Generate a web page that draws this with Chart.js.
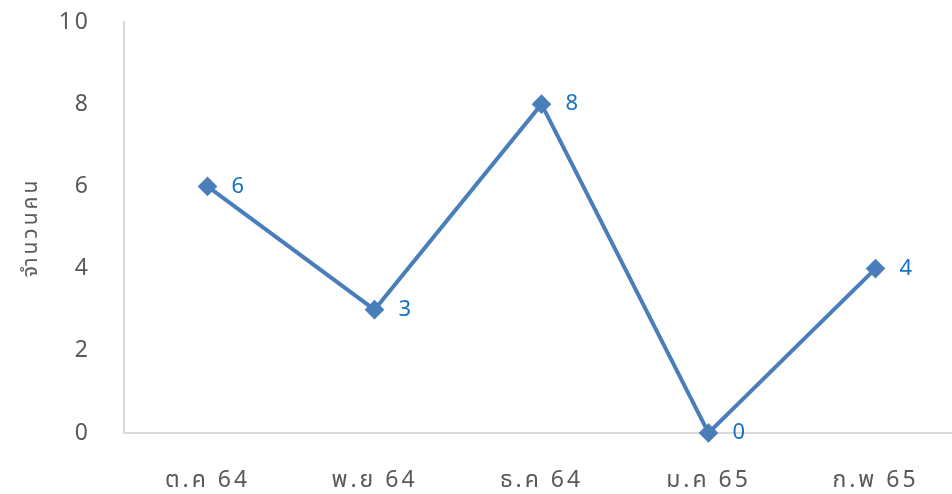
<!DOCTYPE html>
<html>
<head>
<meta charset="utf-8">
<script src="https://cdn.jsdelivr.net/npm/chart.js@4/dist/chart.umd.min.js"></script>
<style>
  html, body { margin: 0; padding: 0; background: #fff; overflow: hidden; }
</style>
</head>
<body>
<canvas id="chart" width="970" height="494"></canvas>
<script>
const months = ['ต.ค 64', 'พ.ย 64', 'ธ.ค 64', 'ม.ค 65', 'ก.พ 65'];
const people = [6, 3, 8, 0, 4];
const yTicks = [0, 2, 4, 6, 8, 10];

const fontFamily = '"Noto Sans", "Noto Sans Thai", "DejaVu Sans", sans-serif';

// wide tracking like the original Thai font
const spacing = {
    id: 'spacing',
    beforeUpdate(chart) { chart.ctx.letterSpacing = '3px'; },
    beforeDraw(chart) { chart.ctx.letterSpacing = '3px'; }
};

// draws the value next to each point (like Excel data labels, right side)
const valueLabels = {
    id: 'valueLabels',
    afterDatasetsDraw(chart) {
        const ctx = chart.ctx;
        const meta = chart.getDatasetMeta(0);
        ctx.save();
        ctx.letterSpacing = '0px';
        ctx.font = '22px ' + fontFamily;
        ctx.fillStyle = '#1672C4';
        ctx.textAlign = 'left';
        ctx.textBaseline = 'middle';
        meta.data.forEach((pt, i) => {
            ctx.fillText(String(people[i]), pt.x + 24, pt.y);
        });
        ctx.restore();
    }
};

const ctx = document.getElementById('chart').getContext('2d');
new Chart(ctx, {
    type: 'line',
    data: {
        labels: months,
        datasets: [{
            label: 'จำนวนคน',
            data: people,
            borderColor: '#4A7EBB',
            backgroundColor: '#4A7EBB',
            borderWidth: 4,
            pointStyle: 'rectRot',
            pointRadius: 7,
            pointHoverRadius: 7,
            tension: 0,
            clip: false
        }]
    },
    options: {
        responsive: false,
        animation: false,
        layout: { padding: { top: 22, right: 2, left: 0, bottom: 0 } },
        plugins: {
            legend: { display: false },
            tooltip: { enabled: false }
        },
        scales: {
            x: {
                offset: true,
                grid: { display: false, drawTicks: false },
                border: { display: true, color: '#D9D9D9', width: 2 },
                ticks: {
                    color: '#595959',
                    font: { size: 23, family: fontFamily },
                    padding: 34
                },
                afterFit(scale) {
                    scale.height = 61;
                    scale.paddingLeft = 0;
                    scale.paddingRight = 0;
                }
            },
            y: {
                min: 0,
                max: 10,
                grid: { display: false, drawTicks: false },
                border: { display: true, color: '#D9D9D9', width: 2 },
                afterBuildTicks(scale) { scale.ticks = yTicks.map(v => ({ value: v })); },
                ticks: {
                    color: '#595959',
                    font: { size: 23, family: fontFamily },
                    padding: 33
                },
                title: {
                    display: true,
                    text: 'จำนวนคน',
                    color: '#595959',
                    font: { size: 21, family: fontFamily },
                    padding: { top: 18, bottom: 0 }
                },
                afterFit(scale) {
                    scale.width = 124;
                    scale.paddingTop = 0;
                    scale.paddingBottom = 0;
                }
            }
        }
    },
    plugins: [spacing, valueLabels]
});
</script>
</body>
</html>
